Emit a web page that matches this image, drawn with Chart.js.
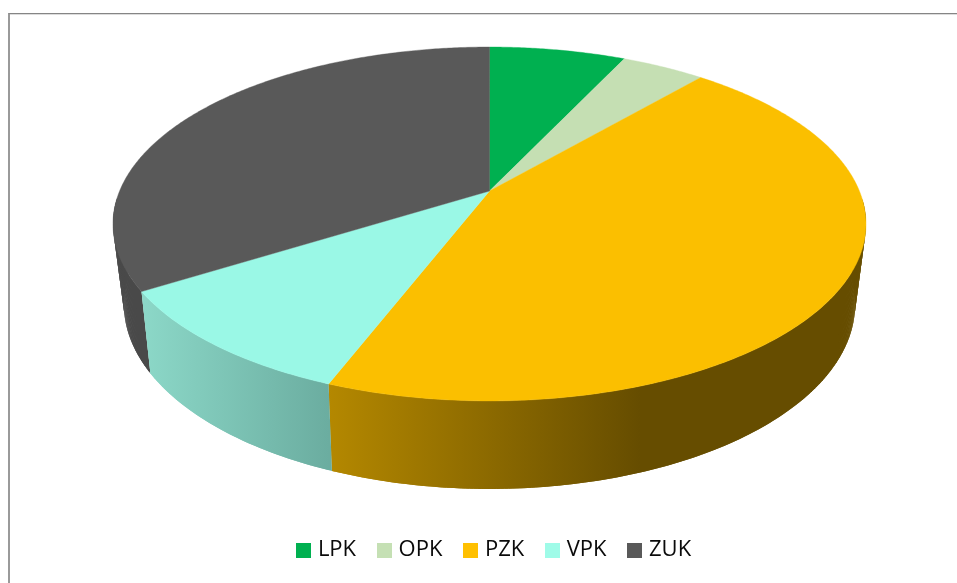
<!DOCTYPE html>
<html><head><meta charset="utf-8">
<script src="https://cdn.jsdelivr.net/npm/chart.js@4"></script>
<style>
html,body{margin:0;padding:0;background:#fff;overflow:hidden;width:957px;height:583px}
#frame{position:absolute;left:8px;top:13px;width:960px;height:580px;border-top:1px solid #858585;border-left:2px solid #9a9a9a;box-shadow:inset 0 1px 0 #dcdcdc}
canvas{position:absolute;left:0;top:0}
</style></head><body>
<div id="frame"></div>
<canvas id="c" width="957" height="583"></canvas>
<script>
const categories = ['LPK','OPK','PZK','VPK','ZUK'];
const values = [7.0, 4.3, 44.55, 10.25, 33.9];
const topColors = ['#00b050','#c5dfb3','#fbbf00','#9af8e6','#595959'];
const legendColors = ['#00b050','#c5e0b4','#ffc000','#9ffbe8','#595959'];
const wallStops = [['#008a3f','#008a3f'],['#9ab08c','#9ab08c'],['#b48800','#664d00'],['#8cd8c8','#6bada0'],['#494949','#494949']];

// projective view of the pie's disc (perspective looking down at it)
const CX = 489.5;
const topFace = {a:369.9, yA:135.2, yB:191, k:-0.1864};
const baseFace = {a:358.6, yA:125.3, yB:268.3, k:-0.195};
function proj(f, t){
  const u=Math.cos(t), v=Math.sin(t), w=1+f.k*v;
  return [CX+f.a*u/w, (f.yA*v+f.yB)/w];
}
const STEP = Math.PI/360;
function samples(s,e){
  const n=Math.max(2,Math.ceil((e-s)/STEP)), r=[];
  for(let i=0;i<=n;i++) r.push(s+(e-s)*i/n);
  return r;
}
const tiltedPie = {
  id:'tiltedPie',
  beforeDatasetDraw(chart,args){
    const ctx=chart.ctx, arcs=chart.getDatasetMeta(args.index).data;
    ctx.save();
    // side walls: only the part facing the viewer; each strip overlaps the next so no seams show
    [4,1,0,2,3].forEach(i=>{
      const el=arcs[i], ts=samples(el.startAngle,el.endAngle);
      const xs=ts.map(t=>proj(topFace,t)[0]);
      const x0=Math.min(...xs), x1=i===2?640:Math.max(...xs);
      const g=ctx.createLinearGradient(x0,0,x1,0);
      g.addColorStop(0,wallStops[i][0]); g.addColorStop(1,wallStops[i][1]);
      ctx.fillStyle=g;
      const last=ts.length-1;
      for(let k=0;k<last;k++){
        if(Math.sin(ts[k])<0.05 && Math.sin(ts[k+1])<0.05) continue;
        const next=ts[Math.min(k+2,last)];
        const a=proj(topFace,ts[k]), b=proj(topFace,next), c=proj(baseFace,next), d=proj(baseFace,ts[k]);
        ctx.beginPath();ctx.moveTo(a[0],a[1]);ctx.lineTo(b[0],b[1]);ctx.lineTo(c[0],c[1]);ctx.lineTo(d[0],d[1]);ctx.closePath();
        ctx.fill();
      }
    });
    // top face
    arcs.forEach((el,i)=>{
      ctx.beginPath();
      ctx.moveTo(CX,topFace.yB);
      samples(el.startAngle,el.endAngle).forEach(t=>{const p=proj(topFace,t);ctx.lineTo(p[0],p[1]);});
      ctx.closePath();
      ctx.fillStyle=topColors[i]; ctx.strokeStyle=topColors[i]; ctx.lineWidth=0.4;
      ctx.fill();ctx.stroke();
    });
    ctx.restore();
    return false;
  }
};
function swatch(color){
  const c=document.createElement('canvas');c.width=15;c.height=15;
  const x=c.getContext('2d');x.fillStyle=color;x.fillRect(0,0,15,15);
  return c;
}
const baseLabels = Chart.overrides.doughnut.plugins.legend.labels.generateLabels;
new Chart(document.getElementById('c'),{
  type:'pie',
  data:{labels:categories,datasets:[{data:values,backgroundColor:legendColors,borderWidth:0}]},
  plugins:[tiltedPie],
  options:{
    responsive:false,animation:false,
    events:[],
    layout:{padding:{left:34,bottom:12,top:20,right:0}},
    plugins:{
      tooltip:{enabled:false},
      legend:{
        position:'bottom',
        labels:{
          usePointStyle:true,boxWidth:7,boxHeight:15,padding:24.5,color:'#0a0a0a',
          font:{family:'"Open Sans"',size:22},
          generateLabels(chart){
            return baseLabels(chart).map((it,i)=>Object.assign(it,{pointStyle:swatch(legendColors[i])}));
          }
        }
      }
    }
  }
});
</script>
</body></html>
